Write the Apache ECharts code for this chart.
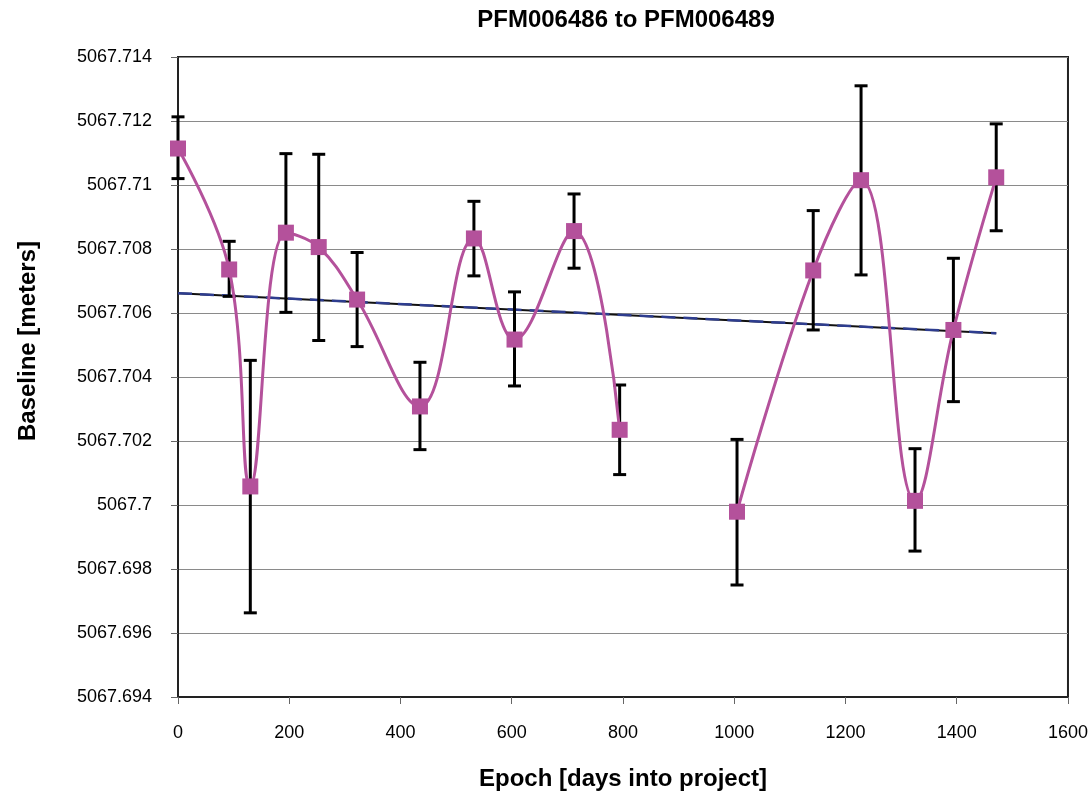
<!DOCTYPE html>
<html>
<head>
<meta charset="utf-8">
<title>PFM006486 to PFM006489</title>
<script src="https://cdn.jsdelivr.net/npm/echarts@6/dist/echarts.min.js"></script>
<style>
  html, body { margin: 0; padding: 0; background: #fff; overflow: hidden; }
  #chart { width: 1091px; height: 796px; }
</style>
</head>
<body>
<div id="chart"></div>
<script>
const epochDays = [0, 92, 130, 194, 253, 322, 435, 532, 605, 712, 794, 1005, 1142, 1228, 1325, 1394, 1471]
const baseline = [
  5067.71114, 5067.70736, 5067.70058, 5067.70851, 5067.70806, 5067.70642,
  5067.70308, 5067.70833, 5067.70517, 5067.70856, 5067.70235, 5067.69979,
  5067.70733, 5067.71015, 5067.70013, 5067.70547, 5067.71024
]
// error bar ends
const errLow = [
  5067.71020, 5067.70652, 5067.69663, 5067.70602, 5067.70514, 5067.70495,
  5067.70173, 5067.70716, 5067.70372, 5067.70740, 5067.70095, 5067.69750,
  5067.70547, 5067.70719, 5067.69856, 5067.70323, 5067.70857
]
const errHigh = [
  5067.71213, 5067.70824, 5067.70452, 5067.71098, 5067.71096, 5067.70789,
  5067.70446, 5067.70949, 5067.70666, 5067.70972, 5067.70375, 5067.70205,
  5067.70920, 5067.71310, 5067.70176, 5067.70771, 5067.71191
]
// the curve is broken (no data) between these two epochs
const gapAfterIndex = 10
// linear trend end points
const trendDays = [0, 1471]
const trendBaseline = [5067.70662, 5067.70537]

const pink = '#B4519B'
const fontFamily = 'Arial, "Liberation Sans", sans-serif'

const lineData = []
epochDays.forEach((d, i) => {
  lineData.push([d, baseline[i]])
  if (i === gapAfterIndex) lineData.push([null, null])
})

const chart = echarts.init(document.getElementById('chart'))

chart.setOption({
  animation: false,
  backgroundColor: '#fff',
  grid: {
    left: 178,
    right: 17,
    top: 57,
    bottom: 97,
    show: true,
    borderColor: '#222',
    borderWidth: 2
  },
  graphic: [
    {
      type: 'text',
      x: 626,
      y: 20,
      style: {
        text: 'PFM006486 to PFM006489',
        font: 'bold 24px ' + fontFamily,
        fill: '#000',
        align: 'center',
        verticalAlign: 'middle'
      }
    },
    {
      type: 'text',
      x: 28,
      y: 341,
      rotation: Math.PI / 2,
      style: {
        text: 'Baseline [meters]',
        font: 'bold 24px ' + fontFamily,
        fill: '#000',
        align: 'center',
        verticalAlign: 'middle'
      }
    }
  ],
  xAxis: {
    type: 'value',
    min: 0,
    max: 1600,
    interval: 200,
    name: 'Epoch [days into project]',
    nameLocation: 'middle',
    nameGap: 70,
    nameTextStyle: {
      fontFamily: fontFamily,
      fontSize: 24,
      fontWeight: 'bold',
      color: '#000'
    },
    axisLine: { lineStyle: { color: '#222', width: 2 } },
    axisTick: { show: true, length: 7, lineStyle: { color: '#666', width: 1 } },
    axisLabel: {
      margin: 27,
      fontFamily: fontFamily,
      fontSize: 18,
      color: '#000',
      formatter: function (v) { return String(v) }
    },
    splitLine: { show: false }
  },
  yAxis: {
    type: 'value',
    min: 5067.694,
    max: 5067.714,
    interval: 0.002,
    axisLine: { show: true, lineStyle: { color: '#222', width: 2 } },
    axisTick: { show: true, length: 7, lineStyle: { color: '#666', width: 1 } },
    axisLabel: {
      margin: 26,
      fontFamily: fontFamily,
      fontSize: 18,
      color: '#000',
      formatter: function (v) { return String(+v.toFixed(3)) }
    },
    splitLine: { show: true, lineStyle: { color: '#8a8a8a', width: 1 } }
  },
  series: [
    {
      name: 'trend',
      type: 'line',
      z: 2,
      symbol: 'none',
      silent: true,
      lineStyle: { color: '#111', width: 2 },
      data: trendDays.map((d, i) => [d, trendBaseline[i]])
    },
    {
      name: 'trend dash',
      type: 'line',
      z: 2,
      symbol: 'none',
      silent: true,
      lineStyle: { color: '#2E3D8F', width: 2.5, type: [14, 8] },
      data: trendDays.map((d, i) => [d, trendBaseline[i]])
    },
    {
      name: 'error',
      type: 'custom',
      z: 3,
      encode: { x: 0, y: [1, 2] },
      data: epochDays.map((d, i) => [d, errLow[i], errHigh[i]]),
      renderItem (params, api) {
        const x = api.value(0)
        const lo = api.coord([x, api.value(1)])
        const hi = api.coord([x, api.value(2)])
        const half = 6.5
        const style = { stroke: '#000', lineWidth: 3 }
        return {
          type: 'group',
          children: [
            { type: 'line', shape: { x1: hi[0], y1: hi[1], x2: lo[0], y2: lo[1] }, style },
            { type: 'line', shape: { x1: hi[0] - half, y1: hi[1], x2: hi[0] + half, y2: hi[1] }, style },
            { type: 'line', shape: { x1: lo[0] - half, y1: lo[1], x2: lo[0] + half, y2: lo[1] }, style }
          ]
        }
      }
    },
    {
      name: 'baseline',
      type: 'line',
      z: 4,
      smooth: 0.4,
      connectNulls: false,
      symbol: 'rect',
      symbolSize: 16,
      showAllSymbol: true,
      itemStyle: { color: pink },
      lineStyle: { color: pink, width: 3 },
      data: lineData
    }
  ]
})
</script>
</body>
</html>
